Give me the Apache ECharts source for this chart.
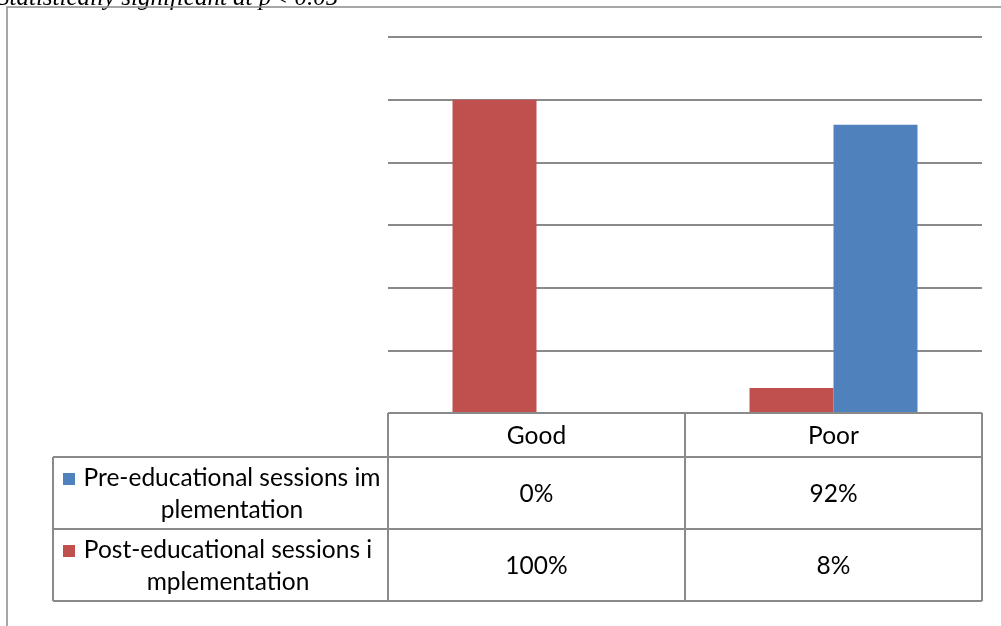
<!DOCTYPE html>
<html><head><meta charset="utf-8">
<script src="https://cdn.jsdelivr.net/npm/echarts@6/dist/echarts.min.js"></script>
<style>html,body{margin:0;padding:0;background:#fff}#c{width:1001px;height:626px}</style>
</head><body><div id="c"></div>
<script>
var categories = ['Good', 'Poor'];
var preLabelLines = ['Pre-educational sessions im', 'plementation'];
var postLabelLines = ['Post-educational sessions i', 'mplementation'];
var preValues = [0, 92];
var postValues = [100, 8];
var yMin = 0, yMax = 120, yStep = 20;
var noteText = 'Statistically significant at p< 0.05';

var BLUE = '#4F81BD', RED = '#C0504D', LINE = '#8a8a8a';
var FONT = 'Lato';
var FS = '24.5px ';
var chart = echarts.init(document.getElementById('c'), null, {renderer: 'canvas'});
chart.setOption({
  animation: false,
  grid: {left: 388, right: 19, top: 37, bottom: 213},
  xAxis: {type: 'category', data: categories, axisLine: {show: false}, axisTick: {show: false}, axisLabel: {show: false}},
  yAxis: {type: 'value', min: yMin, max: yMax, interval: yStep,
    axisLine: {show: false}, axisTick: {show: false}, axisLabel: {show: false},
    splitLine: {lineStyle: {color: LINE, width: 2}}},
  series: [
    {name: postLabelLines.join(''), type: 'bar', data: postValues, barWidth: 84, barGap: '0%', itemStyle: {color: RED}},
    {name: preLabelLines.join(''), type: 'bar', data: preValues, barWidth: 84, barGap: '0%', itemStyle: {color: BLUE}}
  ]
});

function build() {
  var c0 = chart.convertToPixel({xAxisIndex: 0}, categories[0]);
  var c1 = chart.convertToPixel({xAxisIndex: 0}, categories[1]);
  var band = c1 - c0;
  var left = c0 - band / 2;
  var right = c0 + band * (categories.length - 0.5);
  var y0 = chart.convertToPixel({yAxisIndex: 0}, yMin);
  var hdrH = 44, rowH = 72;
  var legL = 53;
  var rows = [
    {lines: preLabelLines, color: BLUE, values: preValues, cx: 232},
    {lines: postLabelLines, color: RED, values: postValues, cx: 228}
  ];
  var g = [];
  var ls = {stroke: LINE, lineWidth: 2};
  function line(x1, y1, x2, y2) { g.push({type: 'line', shape: {x1: x1, y1: y1, x2: x2, y2: y2}, style: ls, z: 10}); }
  var yBot = y0 + hdrH + rowH * rows.length;
  line(left, y0, right, y0);
  line(legL, y0 + hdrH, right, y0 + hdrH);
  for (var r = 0; r < rows.length; r++) line(legL, y0 + hdrH + rowH * (r + 1), right, y0 + hdrH + rowH * (r + 1));
  line(legL, y0 + hdrH, legL, yBot);
  for (var k = 0; k <= categories.length; k++) line(left + band * k, y0, left + band * k, yBot);
  categories.forEach(function (cat, i) {
    g.push({type: 'text', x: c0 + band * i, y: y0 + hdrH / 2 + 1, style: {text: cat, font: FS + FONT, fill: '#000', align: 'center', verticalAlign: 'middle'}});
  });
  rows.forEach(function (row, r) {
    var top = y0 + hdrH + rowH * r;
    g.push({type: 'rect', shape: {x: 63, y: top + 16, width: 12, height: 12}, style: {fill: row.color}});
    g.push({type: 'text', x: row.cx, y: top + 21, style: {text: row.lines[0], font: FS + FONT, fill: '#000', align: 'center', verticalAlign: 'middle'}});
    g.push({type: 'text', x: row.cx, y: top + 53, style: {text: row.lines[1], font: FS + FONT, fill: '#000', align: 'center', verticalAlign: 'middle'}});
    row.values.forEach(function (v, i) {
      g.push({type: 'text', x: c0 + band * i, y: top + rowH / 2 + 1, style: {text: v + '%', font: FS + FONT, fill: '#000', align: 'center', verticalAlign: 'middle'}});
    });
  });
  g.push({type: 'rect', shape: {x: 7, y: 7, width: 1100, height: 700}, style: {fill: null, stroke: LINE, lineWidth: 1.5}, z: 1});
  g.push({type: 'text', x: -3, y: 11, style: {text: noteText, font: 'italic 25px "Liberation Serif"', fill: '#000', align: 'left', verticalAlign: 'bottom'}});
  chart.setOption({graphic: {elements: g}});
}
build();
</script></body></html>
